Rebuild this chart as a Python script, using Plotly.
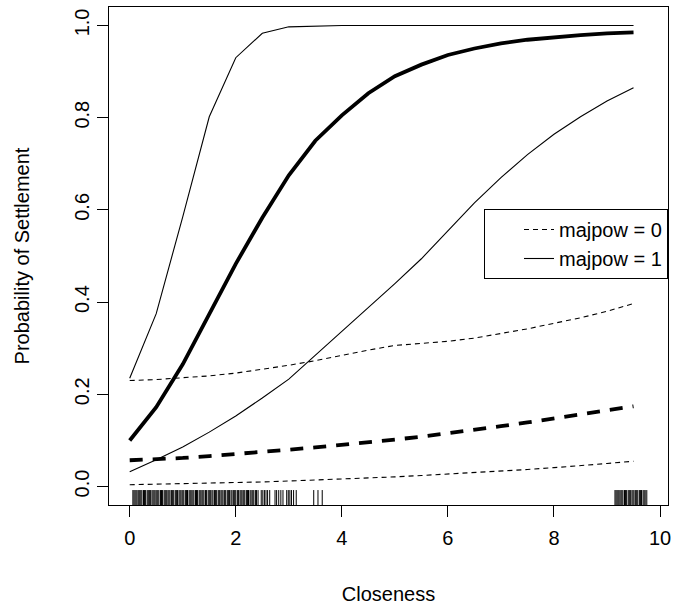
import plotly.graph_objects as go

# Closeness values at which predicted probabilities were evaluated
closeness = [0.0, 0.5, 1.0, 1.5, 2.0, 2.5, 3.0, 3.5, 4.0, 4.5,
             5.0, 5.5, 6.0, 6.5, 7.0, 7.5, 8.0, 8.5, 9.0, 9.5]

# majpow = 0
mp0_mean = [0.057, 0.059, 0.062, 0.066, 0.070, 0.075, 0.080, 0.085, 0.090, 0.096,
            0.102, 0.108, 0.115, 0.123, 0.131, 0.139, 0.148, 0.156, 0.165, 0.174]
mp0_lower = [0.004, 0.005, 0.006, 0.007, 0.008, 0.010, 0.012, 0.014, 0.016, 0.019,
             0.021, 0.024, 0.027, 0.030, 0.034, 0.037, 0.041, 0.045, 0.050, 0.055]
mp0_upper = [0.230, 0.232, 0.236, 0.240, 0.246, 0.254, 0.263, 0.273, 0.285, 0.296,
             0.306, 0.311, 0.315, 0.322, 0.332, 0.342, 0.354, 0.366, 0.380, 0.397]

# majpow = 1
mp1_mean = [0.100, 0.172, 0.265, 0.375, 0.483, 0.583, 0.675, 0.750, 0.805, 0.853,
            0.890, 0.915, 0.936, 0.950, 0.961, 0.969, 0.975, 0.979, 0.983, 0.985]
mp1_lower = [0.032, 0.058, 0.086, 0.118, 0.153, 0.192, 0.233, 0.285, 0.335, 0.387,
             0.440, 0.494, 0.555, 0.615, 0.670, 0.720, 0.764, 0.802, 0.836, 0.865]
mp1_upper = [0.235, 0.375, 0.585, 0.802, 0.930, 0.983, 0.997, 0.999, 1.000, 1.000,
             1.000, 1.000, 1.000, 1.000, 1.000, 1.000, 1.000, 1.000, 1.000, 1.000]

# Observed closeness values (rug)
rug_x = [0.06, 0.08, 0.10, 0.12, 0.14, 0.17, 0.19, 0.21, 0.23, 0.26, 0.28, 0.30,
         0.33, 0.35, 0.37, 0.39, 0.42, 0.44, 0.46, 0.48, 0.51, 0.53, 0.55, 0.58,
         0.60, 0.62, 0.65, 0.67, 0.69, 0.72, 0.74, 0.76, 0.79, 0.81, 0.83, 0.86,
         0.88, 0.90, 0.93, 0.95, 0.97, 1.00, 1.02, 1.05, 1.07, 1.09, 1.12, 1.14,
         1.16, 1.19, 1.21, 1.24, 1.26, 1.28, 1.31, 1.33, 1.36, 1.38, 1.40, 1.43,
         1.45, 1.48, 1.50, 1.52, 1.55, 1.57, 1.60, 1.62, 1.64, 1.67, 1.69, 1.72,
         1.74, 1.76, 1.79, 1.81, 1.84, 1.86, 1.88, 1.91, 1.93, 1.96, 1.98, 2.00,
         2.03, 2.05, 2.08, 2.10, 2.12, 2.15, 2.17, 2.20, 2.22, 2.24, 2.27, 2.29,
         2.32, 2.34, 2.37, 2.39, 2.42, 2.48, 2.51, 2.54, 2.57, 2.60, 2.64,
         2.74, 2.77, 2.81, 2.85, 2.89, 2.96, 2.99, 3.02, 3.05, 3.09, 3.14,
         3.47, 3.55, 3.63,
         9.15, 9.17, 9.19, 9.21, 9.23, 9.26, 9.28, 9.30, 9.33, 9.35, 9.37, 9.40,
         9.42, 9.44, 9.47, 9.49, 9.51, 9.54, 9.56, 9.58, 9.61, 9.63, 9.65, 9.68,
         9.70, 9.72, 9.75]

x_tick_vals = [0, 2, 4, 6, 8, 10]
x_tick_text = ["0", "2", "4", "6", "8", "10"]
y_tick_vals = [0.0, 0.2, 0.4, 0.6, 0.8, 1.0]
y_tick_text = ["0.0", "0.2", "0.4", "0.6", "0.8", "1.0"]

X_RANGE = [-0.3904, 10.150]
Y_RANGE = [-0.04, 1.04]
RUG_TOP = Y_RANGE[0] + 0.03 * (Y_RANGE[1] - Y_RANGE[0])

FONT = "Liberation Sans, Arial, Helvetica, sans-serif"
FS = 20

fig = go.Figure()

thin = 1.1
thick = 3.8
thin_dash = "5px,4px"
thick_dash = "13px,10px"

# majpow = 0 (dashed)
fig.add_trace(go.Scatter(x=closeness, y=mp0_lower, mode="lines", name="majpow = 0",
                         line=dict(color="black", width=thin, dash=thin_dash),
                         showlegend=True, legendrank=1))
fig.add_trace(go.Scatter(x=closeness, y=mp0_upper, mode="lines", name="majpow = 0 upper",
                         line=dict(color="black", width=thin, dash=thin_dash),
                         showlegend=False))
fig.add_trace(go.Scatter(x=closeness, y=mp0_mean, mode="lines", name="majpow = 0 mean",
                         line=dict(color="black", width=thick, dash=thick_dash),
                         showlegend=False))

# majpow = 1 (solid)
fig.add_trace(go.Scatter(x=closeness, y=mp1_lower, mode="lines", name="majpow = 1",
                         line=dict(color="black", width=thin),
                         showlegend=True, legendrank=2))
fig.add_trace(go.Scatter(x=closeness, y=mp1_upper, mode="lines", name="majpow = 1 upper",
                         line=dict(color="black", width=thin),
                         showlegend=False))
fig.add_trace(go.Scatter(x=closeness, y=mp1_mean, mode="lines", name="majpow = 1 mean",
                         line=dict(color="black", width=thick),
                         showlegend=False))

# rug
rx, ry = [], []
for v in rug_x:
    rx += [v, v, None]
    ry += [Y_RANGE[0], RUG_TOP, None]
fig.add_trace(go.Scatter(x=rx, y=ry, mode="lines", line=dict(color="black", width=1),
                         showlegend=False, hoverinfo="skip"))

axis_common = dict(showgrid=False, zeroline=False, showline=True, mirror=True,
                   linecolor="black", linewidth=1, ticks="outside", ticklen=11,
                   tickwidth=1, tickcolor="black",
                   tickfont=dict(family=FONT, size=FS, color="black"))

fig.update_xaxes(range=X_RANGE, tickmode="array", tickvals=x_tick_vals,
                 ticktext=x_tick_text, ticklabelstandoff=4,
                 title=dict(text="Closeness", font=dict(family=FONT, size=FS, color="black"),
                            standoff=38),
                 **axis_common)
fig.update_yaxes(range=Y_RANGE, tickmode="array", tickvals=y_tick_vals,
                 ticktext=y_tick_text, tickangle=-90,
                 title=dict(text="Probability of Settlement",
                            font=dict(family=FONT, size=FS, color="black"),
                            standoff=36),
                 **axis_common)

fig.update_layout(
    width=675, height=605,
    margin=dict(l=109, r=7, t=7, b=100, autoexpand=False),
    paper_bgcolor="white", plot_bgcolor="white",
    font=dict(family=FONT, size=FS, color="black"),
    legend=dict(x=1.0, xanchor="right", y=(505 - 209) / 498, yanchor="top",
                bordercolor="black", borderwidth=1, bgcolor="white",
                font=dict(family=FONT, size=FS, color="black"),
                indentation=34, tracegroupgap=0,
                traceorder="normal"),
)

fig.write_html("out.html")
